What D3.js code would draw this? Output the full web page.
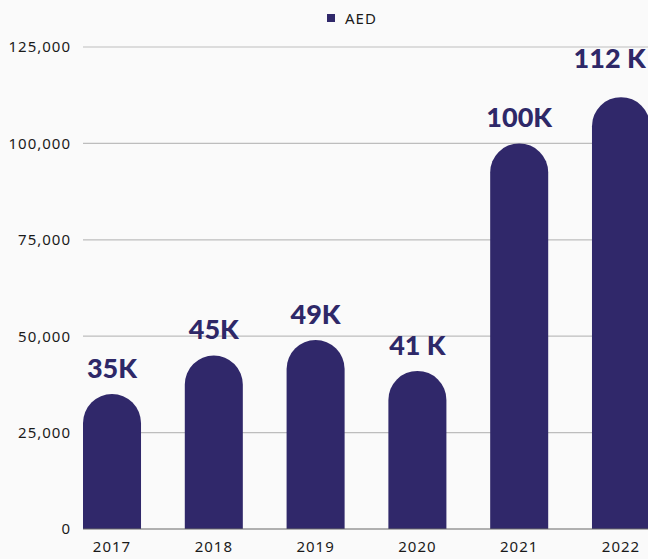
<!DOCTYPE html>
<html><head><meta charset="utf-8">
<script src="https://cdn.jsdelivr.net/npm/d3@7"></script>
<style>
html,body{margin:0;padding:0;background:#fafafa;}
svg{display:block;font-family:"Noto Sans",sans-serif;}
</style></head>
<body><svg id="c" width="648" height="559"></svg>
<script>
const categories = ["2017","2018","2019","2020","2021","2022"];
const values = [35000, 45000, 49000, 41000, 100000, 112000];
const valueLabels = ["35K","45K","49K","41 K","100K","112 K"];
const yTicks = [0, 25000, 50000, 75000, 100000, 125000];
const seriesName = "AED";

const W = 648, H = 559;
const m = {left: 83, right: 0, top: 47, bottom: 30};
const svg = d3.select("#c");
const color = "#30286a";

const x = d3.scaleBand().domain(categories).range([m.left, 650]).paddingInner(0.43).paddingOuter(0);
const y = d3.scaleLinear().domain([0, 125000]).range([529, 47]);

// grid
svg.append("g").selectAll("line").data(yTicks.filter(d=>d>0)).join("line")
  .attr("x1", m.left).attr("x2", W).attr("y1", d=>y(d)).attr("y2", d=>y(d))
  .attr("stroke", "#bdbdbd").attr("stroke-width", 1.2);

// y axis
const ya = svg.append("g").attr("transform", `translate(${m.left},0)`)
  .call(d3.axisLeft(y).tickValues(yTicks).tickFormat(d3.format(",")).tickSize(0).tickPadding(12));
ya.select(".domain").remove();
ya.selectAll("text").attr("font-size", 15).attr("letter-spacing", "1px").attr("fill", "#1a1a1a")
  .attr("font-family", "'Noto Sans',sans-serif");

// bars with rounded top
const bw = x.bandwidth();
const r = bw / 2;
svg.append("g").selectAll("path").data(categories).join("path")
  .attr("fill", color)
  .attr("d", (c, i) => {
    const x0 = x(c), top = y(values[i]), base = y(0);
    const rr = Math.min(r, base - top);
    return `M${x0},${base} L${x0},${top+rr} A${r},${rr} 0 0 1 ${x0+bw},${top+rr} L${x0+bw},${base} Z`;
  });

// baseline
svg.append("line").attr("x1", m.left).attr("x2", W).attr("y1", y(0)).attr("y2", y(0))
  .attr("stroke", "#666").attr("stroke-width", 1.2);

// x axis labels
const xa = svg.append("g").attr("transform", `translate(0,${y(0)})`)
  .call(d3.axisBottom(x).tickSize(0).tickPadding(12));
xa.select(".domain").remove();
xa.selectAll("text").attr("font-size", 15).attr("letter-spacing", "1px").attr("fill", "#1a1a1a")
  .attr("font-family", "'Noto Sans',sans-serif");

// value labels
const lbl = svg.append("g").selectAll("text").data(categories).join("text")
  .attr("font-family", "Lato, sans-serif").attr("font-weight", 900).attr("font-size", 27)
  .attr("fill", "#2e2868").attr("text-anchor", "middle")
  .attr("x", c => x(c) + bw/2)
  .attr("y", (c, i) => y(values[i]) - 16)
  .text((c, i) => valueLabels[i]);
// keep labels inside the canvas
lbl.each(function() {
  const bb = this.getBBox();
  if (bb.x + bb.width > W - 1) {
    const cx = +d3.select(this).attr("x");
    d3.select(this).attr("x", cx - (bb.x + bb.width - (W - 1))).attr("y", +d3.select(this).attr("y") - 13);
  }
});

// legend
const lg = svg.append("g");
lg.append("rect").attr("x", 327).attr("y", 14).attr("width", 8).attr("height", 8).attr("fill", color);
lg.append("text").attr("x", 345).attr("y", 23.5).attr("font-size", 15).attr("letter-spacing", "1px")
  .attr("fill", "#1a1a1a").text(seriesName);
</script></body></html>
